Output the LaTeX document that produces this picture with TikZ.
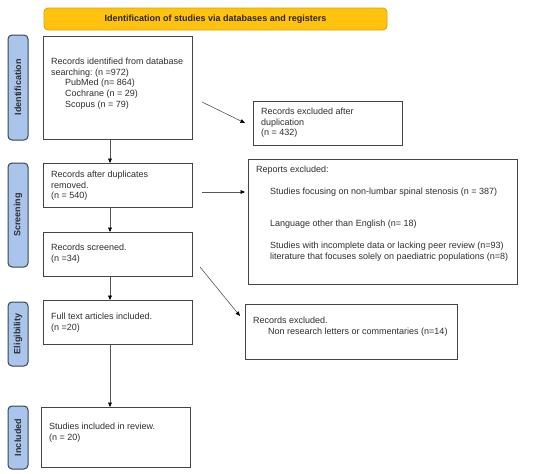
\documentclass[tikz,border=0pt]{standalone}
\usepackage{fontspec}
\setmainfont{Liberation Sans}
\frenchspacing
\usetikzlibrary{arrows.meta}
\definecolor{hdrfill}{HTML}{FFC20E}
\definecolor{hdrdraw}{HTML}{E0A000}
\definecolor{sidefill}{HTML}{A9C5EC}
\definecolor{sidedraw}{HTML}{3A4350}
\definecolor{boxdraw}{HTML}{444444}
\definecolor{txt}{HTML}{2E2E2E}
\definecolor{arr}{HTML}{555555}
\begin{document}
\begin{tikzpicture}[x=1pt,y=-1pt,
  every node/.style={text=txt},
  box/.style={draw=boxdraw, line width=0.9pt, inner sep=0pt, anchor=north west},
  side/.style={draw=sidedraw, fill=sidefill, line width=1pt, rounded corners=4pt, inner sep=0pt, minimum width=20pt},
  sidetext/.style={font=\fontsize{9}{10}\selectfont\bfseries, rotate=90, text=txt},
  tx/.style={anchor=north west, inner sep=0pt, align=left, font=\fontsize{9}{10.6}\selectfont},
  conn/.style={draw=arr, line width=0.6pt, -{Triangle[length=4.5pt,width=3.8pt,color=black]}}
]
\useasboundingbox (0,0) rectangle (550,474);
\fill[white] (0,0) rectangle (550,474);

% header
\node[draw=hdrdraw, fill=hdrfill, line width=0.8pt, rounded corners=4pt, minimum width=343pt, minimum height=22pt, inner sep=0pt,
  font=\fontsize{9}{10}\selectfont\bfseries, text=black!85] (hdr) at (215.5,19) {Identification of studies via databases and registers};

% side labels
\node[side, minimum height=105pt] (sid) at (18,87.5) {};
\node[sidetext] (sidt) at (sid.center) {Identification};
\node[side, minimum height=104pt] (sscr) at (18,215) {};
\node[sidetext] (sscrt) at (sscr.center) {Screening};
\node[side, minimum height=64pt] (selg) at (18,334) {};
\node[sidetext] (selgt) at (selg.center) {Eligibility};
\node[side, minimum height=63pt] (sinc) at (18,437.5) {};
\node[sidetext] (sinct) at (sinc.center) {Included};

% boxes
\node[box, minimum width=149pt, minimum height=103pt] (b1) at (43,36) {};
\node[tx] (b1t) at (51,58) {Records identified from database\\searching: (n =972)\\\hspace*{14pt}PubMed (n= 864)\\\hspace*{14pt}Cochrane (n = 29)\\\hspace*{14pt}Scopus (n = 79)};

\node[box, minimum width=149pt, minimum height=44pt] (dup) at (253,101) {};
\node[tx] (dupt) at (261,108) {Records excluded after\\duplication\\(n = 432)};

\node[box, minimum width=149pt, minimum height=44pt] (b2) at (43,163) {};
\node[tx] (b2t) at (51,171) {Records after duplicates\\removed.\\(n = 540)};

\node[box, minimum width=269pt, minimum height=125pt] (rep) at (248,159) {};
\node[tx] (rept1) at (256,166) {Reports excluded:};
\node[tx] (rept2) at (270,188) {Studies focusing on non-lumbar spinal stenosis (n = 387)};
\node[tx] (rept3) at (270,220) {Language other than English (n= 18)};
\node[tx] (rept4) at (270,242) {Studies with incomplete data or lacking peer review (n=93)\\literature that focuses solely on paediatric populations (n=8)};

\node[box, minimum width=149pt, minimum height=44pt] (b3) at (43,232) {};
\node[tx] (b3t) at (51,244) {Records screened.\\(n =34)};

\node[box, minimum width=149pt, minimum height=44pt] (b4) at (43,300) {};
\node[tx] (b4t) at (51,313) {Full text articles included.\\(n =20)};

\node[box, minimum width=212pt, minimum height=55pt] (ex2) at (245,304) {};
\node[tx] (ex2t) at (253,317) {Records excluded.\\\hspace*{15pt}Non research letters or commentaries (n=14)};

\node[box, minimum width=149pt, minimum height=60pt] (b5) at (41,407) {};
\node[tx] (b5t) at (49,423) {Studies included in review.\\(n = 20)};

% connectors
\coordinate (vx) at (110,0);
\draw[conn] (b1.south -| vx) -- (b2.north -| vx);
\draw[conn] (b2.south -| vx) -- (b3.north -| vx);
\draw[conn] (b3.south -| vx) -- (b4.north -| vx);
\draw[conn] (b4.south -| vx) -- (b5.north -| vx);

\coordinate (a1s) at (202,102);
\coordinate (a1e) at (245,123);
\coordinate (a2s) at (202,192);
\coordinate (a2e) at (245,192);
\coordinate (a3s) at (200,267);
\coordinate (a3e) at (240,316);
\draw[conn] (a1s) -- (a1e);
\draw[conn] (a2s) -- (a2e);
\draw[conn] (a3s) -- (a3e);
\end{tikzpicture}
\end{document}
